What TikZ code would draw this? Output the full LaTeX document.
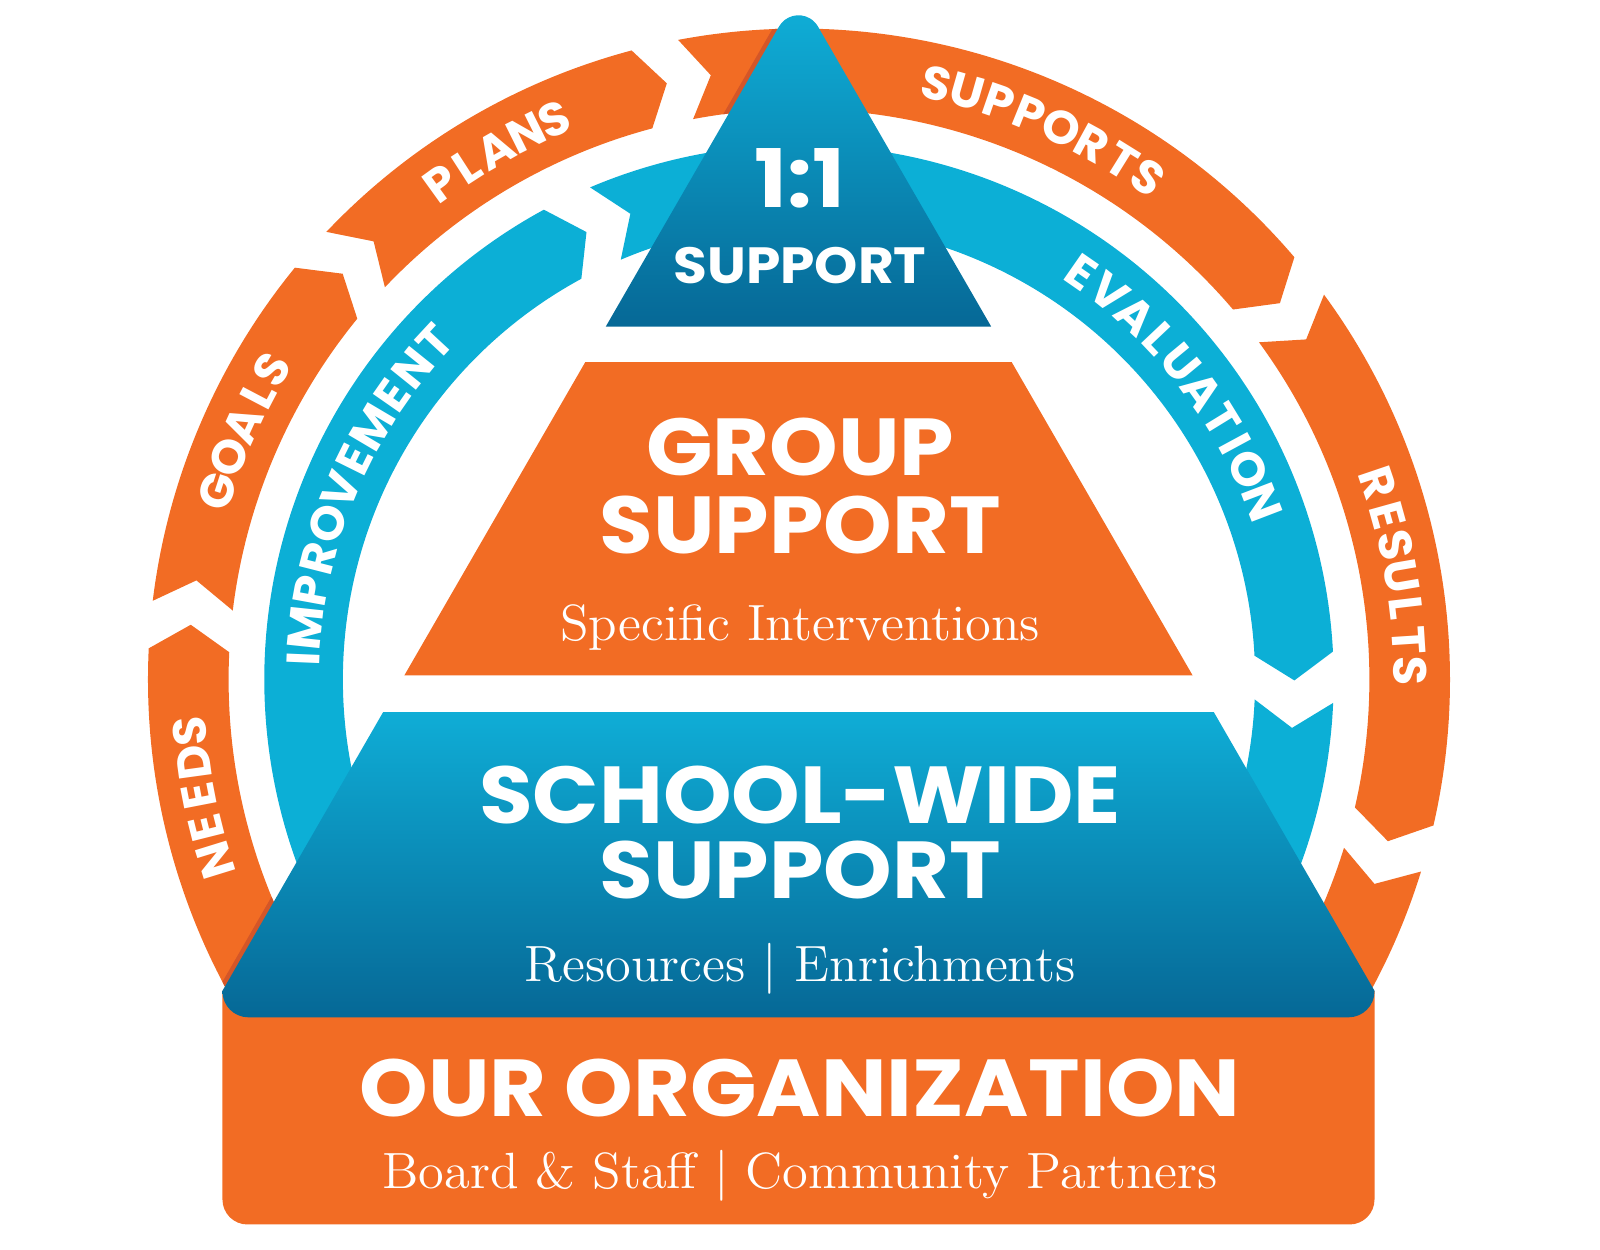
\documentclass[tikz,border=0pt]{standalone}
\usepackage{fontspec}
\newfontfamily\headfont{Poppins}[FakeStretch=1.08]
\newfontfamily\ringfont{Poppins}[FakeStretch=1.02]
\newfontfamily\subfont{lmroman12-regular.otf}[FakeStretch=1.03]
\usetikzlibrary{calc, decorations.text}

\definecolor{orng}{RGB}{242,108,36}
\definecolor{orngdark}{RGB}{212,86,40}
\definecolor{ringblue}{RGB}{12,175,214}
\definecolor{bluetop}{RGB}{15,173,214}
\definecolor{bluebot}{RGB}{6,104,150}

\tikzstyle{bigtitle} = [text=white, inner sep=0pt, font=\headfont\bfseries\fontsize{23}{23}\selectfont]
\tikzstyle{smalltitle} = [text=white, inner sep=0pt, font=\headfont\bfseries\fontsize{14.5}{14.5}\selectfont]
\tikzstyle{subtitle} = [text=white, inner sep=0pt, anchor=base, font=\subfont\fontsize{14.5}{14.5}\selectfont]
\tikzstyle{orangering} = [fill=orng]
\tikzstyle{bluering} = [fill=ringblue]

% #1 start angle, #2 end angle, #3 inner radius, #4 outer radius, #5 arrow depth, #6 style
\newcommand{\ringseg}[6]{%
  \path[#6] ($(C)+(#1:#4)$) arc[start angle=#1, end angle=#2, radius=#4]
    -- ($(C)+({#2-#5}:{(#3+#4)/2})$) -- ($(C)+(#2:#3)$)
    arc[start angle=#2, end angle=#1, radius=#3]
    -- ($(C)+({#1-#5}:{(#3+#4)/2})$) -- cycle;}

% #1 centre angle, #2 baseline radius, #3 text
\newcommand{\ringlabel}[3]{%
  \path[decorate, decoration={text effects along path, text={#3}, text align=center,
      text effects/.cd, text along path, character widths={inner xsep=1.1pt},
      characters={text=white, inner xsep=1.1pt, font=\ringfont\bfseries\fontsize{13.3}{13.3}\selectfont}}]
    ($(C)+({#1+40}:#2)$) arc[start angle={#1+40}, end angle={#1-40}, radius=#2];}

\begin{document}
\begin{tikzpicture}[x=0.010204cm, y=0.010204cm]
	\useasboundingbox (0,0) rectangle (1568,1225);
	\coordinate (C) at (783,559);
	\coordinate (apex) at (782.5,1232);
	\coordinate (footL) at (218,254);

	% outer ring
	\ringseg{235}{177.25}{559}{638}{2.4}{orangering}
	\ringseg{173.05}{140.75}{559}{638}{2.4}{orangering}
	\ringseg{136.55}{104.9}{559}{638}{2.4}{orangering}
	\ringseg{100.7}{40.45}{559}{638}{2.4}{orangering}
	\ringseg{36.25}{-12.95}{559}{638}{2.4}{orangering}
	\ringseg{-17.15}{-55}{559}{638}{2.4}{orangering}

	% inner ring
	\ringseg{220}{118.5}{447}{524}{3.1}{bluering}
	\ringseg{113}{3}{447}{524}{3.1}{bluering}
	\ringseg{-2.5}{-40}{447}{524}{3.1}{bluering}

	% shadow of the pyramid on the ring
	\begin{scope}
		\ringseg{100.7}{40.45}{559}{638}{2.4}{clip}
		\draw[orngdark, line width=0.09cm] (apex) -- (footL);
	\end{scope}
	\begin{scope}
		\ringseg{235}{177.25}{559}{638}{2.4}{clip}
		\draw[orngdark, line width=0.09cm] (apex) -- (footL);
	\end{scope}

	\ringlabel{191.2}{583}{NEEDS}
	\ringlabel{156}{583}{GOALS}
	\ringlabel{119.8}{583}{PLANS}
	\ringlabel{66.1}{583}{SUPPORTS}
	\ringlabel{9.9}{583}{RESULTS}
	\ringlabel{157}{470}{IMPROVEMENT}
	\ringlabel{38}{470}{EVALUATION}

	% pyramid
	\fill[orng] (218,254) -- (1347,254) [rounded corners=0.25cm] -- (1347,25) -- (218,25) [sharp corners] -- cycle;
	\shade[top color=bluetop, bottom color=bluebot] (375.4,527) -- (1189.6,527) -- (1347,254) [rounded corners=0.26cm] -- (1347,228) -- (218,228) [sharp corners] -- (218,254) -- cycle;
	\fill[orng] (573.5,870) -- (991.5,870) -- (1168.8,563) -- (396.2,563) -- cycle;
	\shade[top color=bluetop, bottom color=bluebot] (593.7,905) -- (763.45,1199) arc[start angle=150, end angle=30, radius=22] -- (971.3,905) -- cycle;

	\node[bigtitle] (oneone) at (784,1050) {1:1};
	\node[smalltitle] (onesupport) at (784,965) {SUPPORT};
	\node[bigtitle] (group) at (784,787) {GROUP};
	\node[bigtitle] (groupsupport) at (784,710) {SUPPORT};
	\node[subtitle] (groupsub) at (784,597) {Specific Interventions};
	\node[bigtitle] (school) at (784,446) {SCHOOL-WIDE};
	\node[bigtitle] (schoolsupport) at (784,372) {SUPPORT};
	\node[subtitle] (schoolsub) at (784,263) {Resources | Enrichments};
	\node[bigtitle] (org) at (784,159) {OUR ORGANIZATION};
	\node[subtitle] (orgsub) at (784,60) {Board \& Staff | Community Partners};
\end{tikzpicture}
\end{document}
